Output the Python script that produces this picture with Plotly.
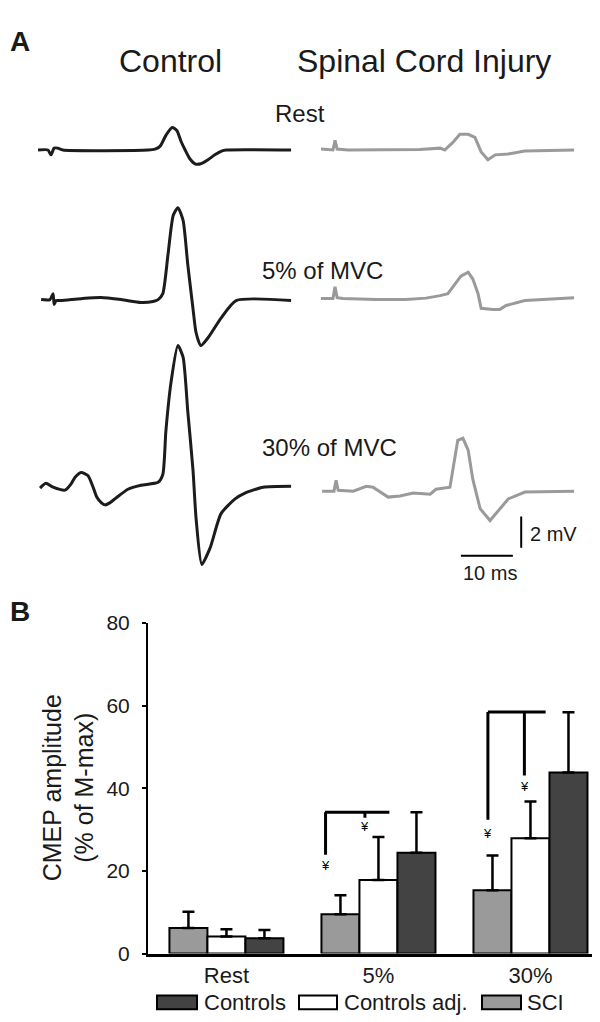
import plotly.graph_objects as go

W, H = 600, 1022
FONT = "Liberation Sans, Arial, sans-serif"

# ---- panel A : example CMEP traces (time in ms, amplitude in mV) ----
SWEEP = 48.7

ctrl_rest_t = [0, 1.9, 2.5, 3.1, 3.8, 4.8, 21.2, 22.5, 23.5, 24.6, 25.8, 26.7, 27.5, 28.3, 29.2, 30.2, 31.3, 32.7, 34.0, 35.4, 36.2, 48.7]
ctrl_rest_v = [0, 0, -0.31, 0.12, 0.12, 0, 0, 0.06, 0.25, 0.94, 1.44, 1.25, 0.56, 0, -0.56, -0.88, -0.88, -0.62, -0.31, -0.06, 0, 0]

ctrl_5_t = [0.6, 2.3, 2.9, 3.1, 3.5, 4.4, 8.3, 12.1, 16.0, 19.8, 22.1, 23.1, 24.0, 25.0, 26.0, 26.9, 27.9, 28.8, 29.8, 30.4, 31.3, 32.7, 35.2, 38.1, 48.7]
ctrl_5_v = [0.06, 0.06, 0.44, -0.25, 0, 0, 0.12, 0.19, 0.06, -0.12, -0.06, 0.06, 0.44, 2.94, 5.44, 5.94, 5.12, 2.31, -0.5, -2.06, -2.88, -2.38, -1.12, 0, 0]

ctrl_30_t = [0.4, 1.5, 2.9, 5.2, 6.3, 7.1, 8.3, 9.6, 10.6, 11.3, 12.2, 12.9, 13.8, 15.0, 17.3, 19.8, 23.1, 24.0, 24.6, 25.6, 26.9, 27.9, 28.8, 29.8, 30.4, 31.5, 33.1, 35.2, 37.9, 39.8, 43.3, 48.7]
ctrl_30_v = [-0.12, 0.19, -0.06, -0.25, 0.12, 0.56, 0.88, 0.69, -0.06, -0.69, -1.06, -1.19, -1.06, -0.75, -0.19, 0.06, 0.25, 0.75, 3.56, 6.69, 9.0, 8.25, 4.81, 1.06, -2.06, -5.0, -3.94, -1.75, -0.81, -0.44, -0.06, 0]

sci_rest_t = [0, 2.3, 2.7, 3.1, 5.2, 14.2, 19.0, 22.9, 23.8, 25.4, 26.7, 28.3, 29.6, 30.8, 32.1, 33.5, 36.0, 39.2, 48.7]
sci_rest_v = [0.06, 0, 0.62, 0.06, 0, 0, 0.03, 0.12, 0, 0.5, 1.0, 1.0, 0.81, -0.12, -0.62, -0.31, -0.25, -0.06, 0]

sci_5_t = [0, 2.3, 2.7, 3.1, 4.2, 10.6, 16.3, 20.2, 22.9, 24.4, 25.8, 26.9, 28.3, 29.2, 30.2, 30.8, 33.1, 34.4, 35.6, 39.2, 48.7]
sci_5_v = [0, 0, 0.75, 0.06, 0, -0.06, -0.06, 0.03, 0.19, 0.31, 0.94, 1.44, 1.69, 1.25, 0.31, -0.62, -0.69, -0.69, -0.44, -0.12, 0.06]

sci_30_t = [0.2, 2.5, 2.9, 3.3, 6.2, 8.7, 10.0, 11.9, 12.9, 15.2, 17.7, 21.0, 22.1, 24.8, 25.4, 26.3, 27.3, 28.3, 29.2, 30.6, 32.5, 34.4, 36.0, 39.2, 48.7]
sci_30_v = [0, 0, 0.69, 0.06, 0, 0.31, 0.25, -0.19, -0.38, -0.31, -0.12, -0.19, 0.12, 0.25, 1.38, 3.25, 3.38, 2.62, 0.75, -1.12, -1.88, -1.12, -0.5, -0.06, 0]

SCALE_MS = 10
SCALE_MV = 2

# ---- panel B : CMEP amplitude (% of M-max) ----
conditions = ["Rest", "5%", "30%"]
sci_mean = [6.2, 9.5, 15.3]
sci_err = [3.9, 4.6, 8.4]
adj_mean = [4.1, 17.8, 27.9]
adj_err = [1.8, 10.4, 8.9]
ctl_mean = [3.7, 24.4, 43.8]
ctl_err = [2.0, 9.8, 14.6]


def px(x):
    return x / W


def py(y):
    return 1 - y / H


fig = go.Figure()

# trace panels: (t, v, colour, left px, baseline px, px above, px below)
PX_MS, PX_MV = 5.2, 16.0
panels = [
    (ctrl_rest_t, ctrl_rest_v, "#1c1c1c", 30, 133, 90, 60),
    (sci_rest_t, sci_rest_v, "#9a9a9a", 313, 133, 90, 60),
    (ctrl_5_t, ctrl_5_v, "#1c1c1c", 30, 287, 110, 90),
    (sci_5_t, sci_5_v, "#9a9a9a", 313, 285, 110, 90),
    (ctrl_30_t, ctrl_30_v, "#1c1c1c", 30, 477, 160, 90),
    (sci_30_t, sci_30_v, "#9a9a9a", 313, 482, 160, 90),
]
layout_axes = {}
for i, (t, v, col, x0, base, up, dn) in enumerate(panels):
    n = i + 2
    smooth = "spline" if col == "#1c1c1c" else "linear"
    fig.add_trace(go.Scatter(x=t, y=v, mode="lines", xaxis=f"x{n}", yaxis=f"y{n}",
                             line=dict(color=col, width=3, shape=smooth, smoothing=0.6),
                             showlegend=False, hoverinfo="skip"))
    layout_axes[f"xaxis{n}"] = dict(domain=[px(x0), px(x0 + SWEEP * PX_MS)], range=[0, SWEEP],
                                    visible=False, anchor=f"y{n}")
    layout_axes[f"yaxis{n}"] = dict(domain=[py(base + dn), py(base - up)],
                                    range=[-dn / PX_MV, up / PX_MV], visible=False, anchor=f"x{n}")
fig.update_layout(**layout_axes)

# bars
for name, m, e, c in [("SCI", sci_mean, sci_err, "#9a9a9a"),
                      ("Controls adj.", adj_mean, adj_err, "white"),
                      ("Controls", ctl_mean, ctl_err, "#434343")]:
    fig.add_trace(go.Bar(x=conditions, y=m, name=name, showlegend=False,
                         marker=dict(color=c, line=dict(color="black", width=2)),
                         error_y=dict(type="data", array=e, arrayminus=[0, 0, 0], symmetric=False,
                                      color="black", thickness=2.5, width=6)))

fig.update_layout(
    width=W, height=H, margin=dict(l=0, r=0, t=0, b=0),
    paper_bgcolor="white", plot_bgcolor="rgba(0,0,0,0)",
    font=dict(family=FONT, color="#1a1a1a"),
    barmode="group", bargap=0.25, bargroupgap=0,
    xaxis=dict(domain=[px(140), 1.0], range=[-0.516, 2.51], type="category",
               showline=True, linecolor="black", linewidth=2.5, ticks="",
               tickfont=dict(size=22), showgrid=False, zeroline=False),
    yaxis=dict(domain=[py(955), py(617)], range=[0, 80], tickvals=[0, 20, 40, 60, 80],
               showline=True, linecolor="black", linewidth=2, ticks="outside", ticklen=4,
               tickwidth=2, tickcolor="black", ticklabelstandoff=8,
               tickfont=dict(size=21), showgrid=False, zeroline=False),
)

shapes = []
ax6x, ax6y = "x7", "y7"
# scale bars on the SCI 30% panel
shapes.append(dict(type="line", xref=ax6x, yref=ax6y, x0=26.9, x1=26.9 + SCALE_MS, y0=-4.125, y1=-4.125,
                   line=dict(color="black", width=2)))
shapes.append(dict(type="line", xref=ax6x, yref=ax6y, x0=38.5, x1=38.5, y0=-3.625, y1=-3.625 + SCALE_MV,
                   line=dict(color="black", width=2)))

# significance brackets
blk = dict(color="black", width=3)
for x0, y0, x1, y1 in [(0.648, 34.2, 1.072, 34.2), (0.652, 34.2, 0.652, 23.9), (0.911, 34.2, 0.911, 32.9),
                       (1.72, 58.5, 2.10, 58.5), (1.72, 58.5, 1.72, 32.4), (1.96, 58.5, 1.96, 43.1)]:
    shapes.append(dict(type="line", xref="x", yref="y", x0=x0, x1=x1, y0=y0, y1=y1, line=blk))

# legend boxes
for (l, r), c in [((149, 189), "#434343"), ((291, 329), "white"), ((474, 513), "#9a9a9a")]:
    shapes.append(dict(type="rect", xref="paper", yref="paper", x0=px(l), x1=px(r), y0=py(1012), y1=py(998),
                       fillcolor=c, line=dict(color="black", width=2)))
fig.update_layout(shapes=shapes)

ann = []


def text(s, x, y, size, xanchor="center", bold=False, angle=0):
    ann.append(dict(text=f"<b>{s}</b>" if bold else s, x=px(x), y=py(y), xref="paper", yref="paper",
                    xanchor=xanchor, yanchor="middle", showarrow=False, textangle=angle,
                    font=dict(size=size, family=FONT, color="#1a1a1a")))


text("A", 0, 22, 28, "left", True)
text("B", 0, 605, 28, "left", True)
text("Control", 162, 42, 32)
text("Spinal Cord Injury", 416, 42, 32)
text("Rest", 292, 96, 24)
text("5% of MVC", 314, 256, 24)
text("30% of MVC", 321, 437, 24)
text("2 mV", 520, 526, 20, "left")
text("10 ms", 482, 566, 20)
text("CMEP amplitude<br>(% of M-max)", 60, 786, 25, angle=-90)
text("Controls", 194, 1005, 22, "left")
text("Controls adj.", 334, 1005, 22, "left")
text("SCI", 517, 1005, 22, "left")

for x, y in [(0.652, 21.3), (0.911, 30.8), (1.72, 29.1), (1.96, 40.5)]:
    ann.append(dict(text="¥", x=x, y=y, xref="x", yref="y", showarrow=False,
                    font=dict(size=13, family=FONT, color="black")))
fig.update_layout(annotations=ann)

fig.write_html("out.html")
